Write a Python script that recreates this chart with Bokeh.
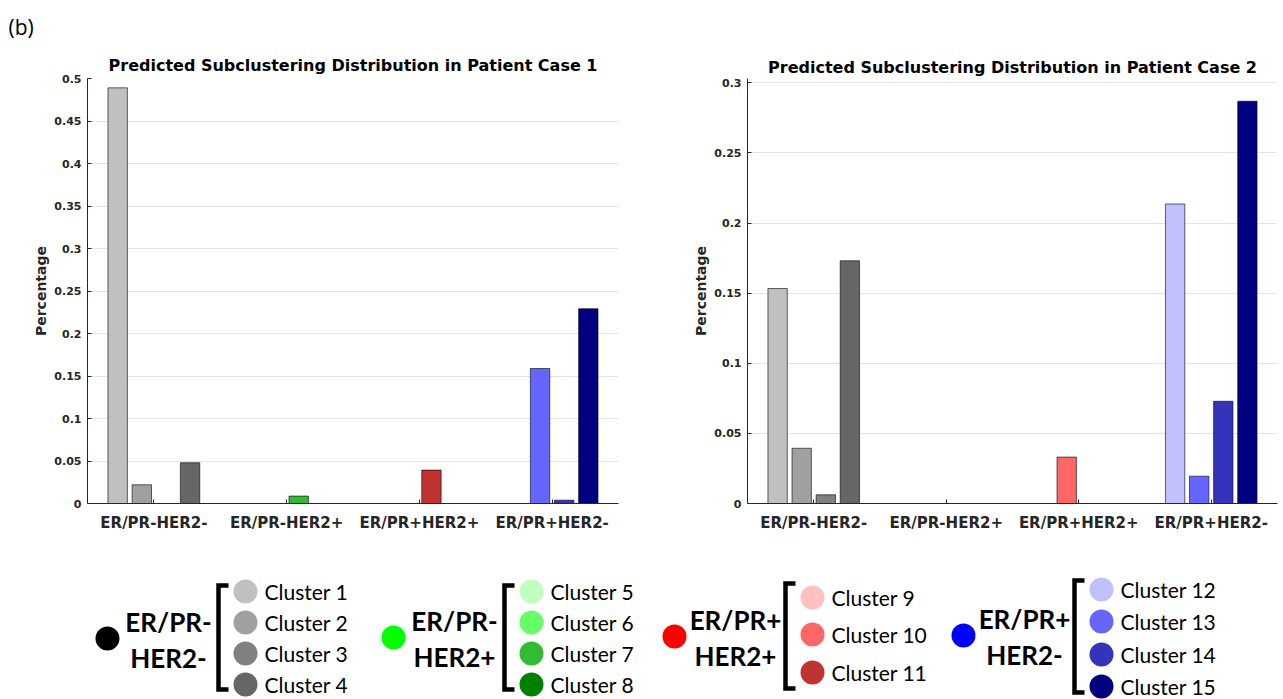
from bokeh.plotting import figure
from bokeh.layouts import column, row
from bokeh.models import Range1d, FactorRange, FixedTicker, ColumnDataSource, Title
from bokeh.transform import dodge
from bokeh.core.properties import value
from bokeh.embed import file_html
from bokeh.resources import INLINE

# ---------------- data ----------------
categories = ["ER/PR-HER2-", "ER/PR-HER2+", "ER/PR+HER2+", "ER/PR+HER2-"]
group_names = [["ER/PR-", "HER2-"], ["ER/PR-", "HER2+"], ["ER/PR+", "HER2+"], ["ER/PR+", "HER2-"]]
group_clusters = [[1, 2, 3, 4], [5, 6, 7, 8], [9, 10, 11], [12, 13, 14, 15]]
cluster_names = ["Cluster %d" % i for i in range(1, 16)]
cluster_colors = ["#C0C0C0", "#A0A0A0", "#808080", "#666666",
                  "#C0FFC0", "#66FF66", "#33BB33", "#008000",
                  "#FFC0C0", "#FF6666", "#BF3333",
                  "#C0C0FF", "#6666FF", "#3333BB", "#000080"]
group_colors = ["#000000", "#00FF00", "#FF0000", "#0000FF"]

# values per group, per cluster slot (slot 4 of group 3 is empty)
case1 = [[0.489, 0.022, 0.0, 0.048],
         [0.0, 0.0, 0.0087, 0.0],
         [0.0, 0.0, 0.0393, 0.0],
         [0.0, 0.1588, 0.0039, 0.2291]]
case2 = [[0.1533, 0.0394, 0.0062, 0.1731],
         [0.0, 0.0, 0.0, 0.0],
         [0.0, 0.0331, 0.0, 0.0],
         [0.2136, 0.0195, 0.0729, 0.2869]]

titles = ["Predicted Subclustering Distribution in Patient Case 1",
          "Predicted Subclustering Distribution in Patient Case 2"]
y_ticks1 = [0, 0.05, 0.1, 0.15, 0.2, 0.25, 0.3, 0.35, 0.4, 0.45, 0.5]
y_labels1 = ["0", "0.05", "0.1", "0.15", "0.2", "0.25", "0.3", "0.35", "0.4", "0.45", "0.5"]
y_ticks2 = [0, 0.05, 0.1, 0.15, 0.2, 0.25, 0.3]
y_labels2 = ["0", "0.05", "0.1", "0.15", "0.2", "0.25", "0.3"]
panel_tag = "(b)"

# ---------------- styling ----------------
AX = "#262626"
FONT = "DejaVu Sans"
SLOT = 0.1818
BARW = 0.146


def style_title(t, stand):
    t.align = "center"
    t.text_font = FONT
    t.text_font_style = "bold"
    t.text_font_size = "16px"
    t.text_color = "#000000"
    t.standoff = stand


def bar_chart(values, yticks, ylabels, yend, w, h, bl, bt, br, bb):
    p = figure(width=w, height=h, x_range=FactorRange(*categories),
               y_range=Range1d(0, yend), output_backend="svg",
               toolbar_location=None, min_border_left=bl, min_border_top=bt,
               min_border_right=br, min_border_bottom=bb)
    p.outline_line_color = None
    p.background_fill_color = "white"
    p.border_fill_color = "white"
    for j in range(4):
        tops, cols = [], []
        for g in range(4):
            tops.append(values[g][j])
            if j < len(group_clusters[g]):
                cols.append(cluster_colors[group_clusters[g][j] - 1])
            else:
                cols.append("#FFFFFF")
        src = ColumnDataSource(dict(cat=categories, top=tops, color=cols))
        p.vbar(x=dodge("cat", (j - 1.5) * SLOT, range=p.x_range), top="top",
               bottom=0, width=BARW, fill_color="color", line_color="#000000",
               line_alpha=0.6, line_width=1, source=src)
    p.xgrid.visible = False
    p.ygrid.grid_line_color = "#E4E4E4"
    p.ygrid.grid_line_width = 1
    p.yaxis.ticker = FixedTicker(ticks=yticks)
    p.yaxis.major_label_overrides = {t: l for t, l in zip(yticks, ylabels)}
    p.yaxis.axis_label = "Percentage"
    p.yaxis.axis_label_text_font = FONT
    p.yaxis.axis_label_text_font_style = "bold"
    p.yaxis.axis_label_text_font_size = "14px"
    p.yaxis.axis_label_text_color = AX
    p.yaxis.axis_label_standoff = 2
    for ax in (p.xaxis[0], p.yaxis[0]):
        ax.axis_line_color = AX
        ax.axis_line_width = 1
        ax.major_tick_line_color = AX
        ax.major_tick_in = 4
        ax.major_tick_out = 0
        ax.minor_tick_line_color = None
        ax.major_label_text_font = FONT
        ax.major_label_text_font_style = "bold"
        ax.major_label_text_color = AX
    p.yaxis.major_label_text_font_size = "11px"
    p.yaxis.major_label_standoff = 6
    p.xaxis.major_label_text_font_size = "15px"
    p.xaxis.major_label_standoff = 10
    return p


# both frames share top (78) and bottom (503); right range end puts 0.3 where the reference has it
p1 = bar_chart(case1, y_ticks1, y_labels1, 0.5, 668, 548, 87, 78, 50, 45)
p2 = bar_chart(case2, y_ticks2, y_labels2, 0.3031, 615, 548, 79, 78, 6, 45)

# left: outer title is the panel tag, inner title is the chart title
p1.title.text = panel_tag
p1.title.align = "left"
p1.title.offset = -79
p1.title.standoff = 18
p1.title.text_font = "Open Sans"
p1.title.text_font_style = "normal"
p1.title.text_font_size = "21px"
p1.title.text_color = "#000000"
t1 = Title(text=titles[0])
style_title(t1, 8)
p1.add_layout(t1, "above")

p2.title.text = titles[1]
style_title(p2.title, 3)

# ---------------- legend panel ----------------
p3 = figure(width=1283, height=151, x_range=Range1d(0, 1283), y_range=Range1d(699, 548),
            output_backend="svg", toolbar_location=None, min_border=0)
p3.axis.visible = False
p3.grid.visible = False
p3.outline_line_color = None

dot_x = [107, 393, 674, 963]
dot_y = [638, 637, 636, 635]
row_ys = [[591, 622, 653, 684], [591, 622, 653, 684], [597, 634, 672], [589, 621, 654, 686]]
bracket_span = [(585, 689), (585, 689), (583, 688), (580, 692)]

p3.scatter(x=dot_x, y=dot_y, size=24, fill_color=group_colors, line_color=None)
for g in range(4):
    cx = dot_x[g] + 61
    p3.text(x=[cx] * 2, y=[dot_y[g] - 17, dot_y[g] + 19], text=group_names[g],
            text_font=value("Lato"), text_font_style="bold", text_font_size="26px",
            text_align="center", text_baseline="middle", text_color="#000000")
    ys = row_ys[g]
    top, bot = bracket_span[g]
    bx = dot_x[g] + 111
    p3.line(x=[bx + 10, bx, bx, bx + 10], y=[top, top, bot, bot], line_color="#000000",
            line_width=4.5, line_join="miter")
    cl = group_clusters[g]
    p3.scatter(x=[dot_x[g] + 138] * len(cl), y=ys, size=24,
               fill_color=[cluster_colors[c - 1] for c in cl], line_color=None)
    p3.text(x=[dot_x[g] + 157] * len(cl), y=ys, text=[cluster_names[c - 1] for c in cl],
            text_font=value("Lato"), text_font_size="21px", text_align="left",
            text_baseline="middle", text_color="#000000")

layout = column(row(p1, p2, spacing=0), p3, spacing=0)
open("out.html", "w").write(file_html(layout, INLINE))
